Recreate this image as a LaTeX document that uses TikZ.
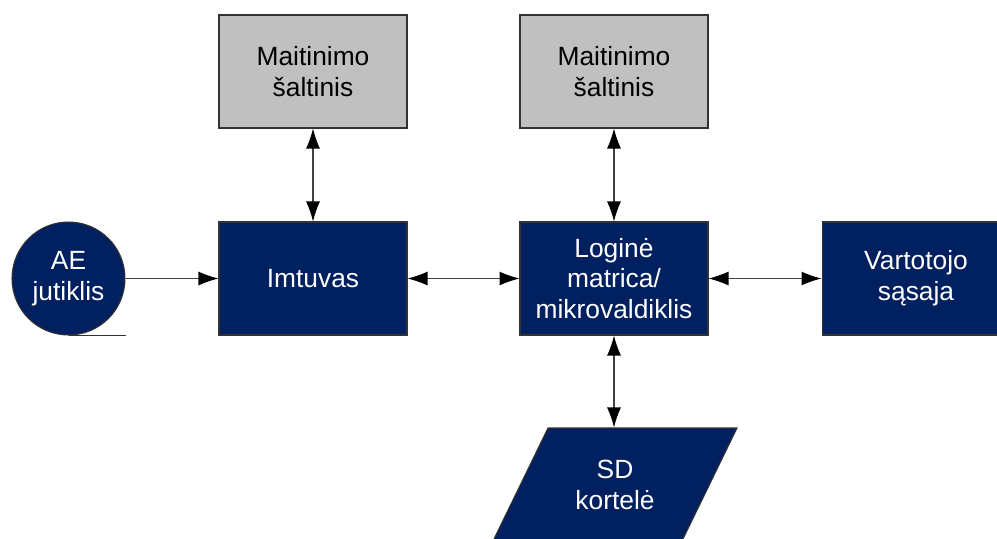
\documentclass[tikz,border=0pt]{standalone}
\usepackage{fontspec}
\setmainfont{Liberation Sans}
\usetikzlibrary{arrows.meta}

\definecolor{blk} {RGB}{0,32,96}
\definecolor{pwr} {RGB}{192,192,192}
\definecolor{lnk} {RGB}{64,64,64}

\tikzset{
  box/.style={draw=black!80,line width=0.6pt,minimum width=3.76cm,minimum height=2.26cm,
    align=center,font=\fontsize{15}{17.6}\selectfont,inner sep=0pt},
  dark/.style={box,fill=blk,text=white},
  grey/.style={box,fill=pwr,text=black},
  lnkline/.style={draw=lnk,line width=0.6pt},
  both/.style={lnkline,arrows={Latex[length=4mm,width=2.8mm,color=black]-Latex[length=4mm,width=2.8mm,color=black]}},
  one/.style={lnkline,arrows={-Latex[length=4mm,width=2.8mm,color=black]}}
}

\begin{document}
\begin{tikzpicture}[x=0.02cm,y=-0.02cm]

    \useasboundingbox (0,0) rectangle (997,538);

    \node[grey] (p1) at (313,71.5) {Maitinimo\\šaltinis};
    \node[grey] (p2) at (614,71.5) {Maitinimo\\šaltinis};
    \node[dark] (imt) at (313,278.5) {Imtuvas};
    \node[dark] (mcu) at (614,278.5) {Loginė\\matrica/\\mikrovaldiklis};
    \node[dark] (ui) at (916,278.5) {Vartotojo\\sąsaja};
    \node[dark,circle,minimum size=2.26cm] (ae) at (68.5,278.5) {AE\\jutiklis};

    % SD kortele
    \draw[draw=black!80,line width=0.6pt,fill=blk] (548,428) -- (737,428) -- (682,541) -- (493,541) -- cycle;
    \node[box,draw=none,text=white] (sd) at (615,484.5) {SD\\kortelė};

    \draw[line width=0.6pt,black!80] (ae.south) -- (ae.south -| ae.east);

    \draw[one] (ae.east) -- (imt.west);
    \draw[both] (imt.east) -- (mcu.west);
    \draw[both] (mcu.east) -- (ui.west);
    \draw[both] (p1.south) -- (imt.north);
    \draw[both] (p2.south) -- (mcu.north);
    \draw[both] (mcu.south) -- (mcu.south |- sd.north);

\end{tikzpicture}
\end{document}
